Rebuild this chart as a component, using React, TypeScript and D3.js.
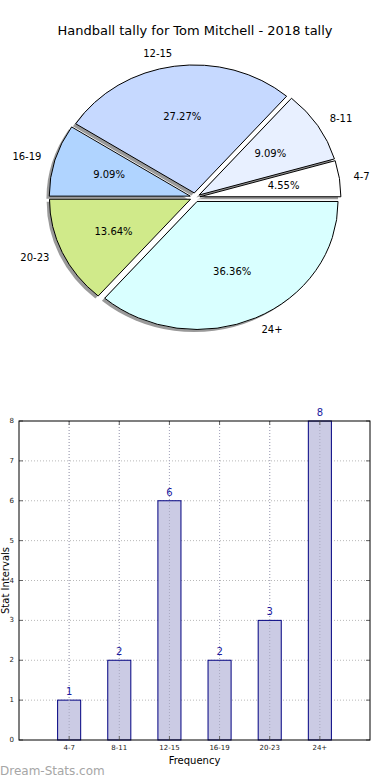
import React from "react";
import * as d3 from "d3";

const categories = ["4-7", "8-11", "12-15", "16-19", "20-23", "24+"];
const counts = [1, 2, 6, 2, 3, 8];
const sliceColors = ["#ffffff", "#e8f0ff", "#c6d9ff", "#b0d4ff", "#d0ea8a", "#d9ffff"];
const yTicks = [0, 1, 2, 3, 4, 5, 6, 7, 8];
const title = "Handball tally for Tom Mitchell - 2018 tally";

const W = 390;
const H = 780;
const FONT = "DejaVu Sans, sans-serif";

export default function App() {
  // ---- pie ----
  const cx = 195;
  const cy = 197.4;
  const rx = 141;
  const ry = 128;
  const explode = 0.035;
  const total = d3.sum(counts);
  const pie = d3
    .pie<number>()
    .sort(null)
    .startAngle(Math.PI / 2)
    .endAngle(Math.PI / 2 - 2 * Math.PI);
  const arcs = pie(counts);

  const pt = (a: number, f: number, ox: number, oy: number) => [
    cx + ox + f * rx * Math.sin(a),
    cy + oy - f * ry * Math.cos(a),
  ];

  const wedgePath = (a0: number, a1: number, ox: number, oy: number) => {
    const [x0, y0] = pt(a0, 1, ox, oy);
    const [x1, y1] = pt(a1, 1, ox, oy);
    const large = Math.abs(a1 - a0) > Math.PI ? 1 : 0;
    const sweep = a1 < a0 ? 0 : 1;
    return `M${cx + ox},${cy + oy}L${x0},${y0}A${rx},${ry} 0 ${large} ${sweep} ${x1},${y1}Z`;
  };

  const slices = arcs.map((d, i) => {
    const mid = (d.startAngle + d.endAngle) / 2;
    const ox = explode * rx * Math.sin(mid);
    const oy = -explode * ry * Math.cos(mid);
    const path = wedgePath(d.startAngle, d.endAngle, ox, oy);
    const shadow = wedgePath(d.startAngle, d.endAngle, ox - 0.02 * rx, oy + 0.02 * ry);
    const [px, py] = pt(mid, 0.6, ox, oy);
    const [lx, ly] = pt(mid, 1.1, ox, oy);
    const pct = ((counts[i] / total) * 100).toFixed(2) + "%";
    return { path, shadow, px, py, lx, ly, pct, anchor: Math.sin(mid) >= 0 ? "start" : "end", i };
  });

  // ---- bar chart ----
  const left = 19;
  const right = 370;
  const top = 421;
  const bottom = 740;
  const x = d3.scaleLinear().domain([-1, 6]).range([left, right]);
  const y = d3.scaleLinear().domain([0, 8]).range([bottom, top]);
  const barW = 0.46;
  const tickLen = 4;

  return (
    <svg
      width={W}
      height={H}
      style={{ position: "absolute", left: 0, top: 0, background: "#fff" }}
      fontFamily={FONT}
    >
      <rect x={0} y={0} width={W} height={H} fill="#fff" />
      <text x={195} y={35} textAnchor="middle" fontSize={13} fill="#000">
        {title}
      </text>

      {/* pie shadows */}
      {slices.map((s) => (
        <path key={"sh" + s.i} d={s.shadow} fill="#9a9a9a" stroke="none" />
      ))}
      {slices.map((s) => (
        <path key={"w" + s.i} d={s.path} fill={sliceColors[s.i]} stroke="#000" strokeWidth={1} strokeLinejoin="round" />
      ))}
      {slices.map((s) => (
        <text key={"p" + s.i} x={s.px} y={s.py} textAnchor="middle" dominantBaseline="central" fontSize={10} fill="#000">
          {s.pct}
        </text>
      ))}
      {slices.map((s) => (
        <text key={"l" + s.i} x={s.lx} y={s.ly} textAnchor={s.anchor} dominantBaseline="central" fontSize={10} fill="#000">
          {categories[s.i]}
        </text>
      ))}

      {/* bar chart grid */}
      {yTicks.slice(1, -1).map((t) => (
        <line key={"gy" + t} x1={left} x2={right} y1={y(t)} y2={y(t)} stroke="#b8b8b8" strokeDasharray="1,2" />
      ))}
      {categories.map((c, i) => (
        <line key={"gx" + c} x1={x(i)} x2={x(i)} y1={top} y2={bottom} stroke="#b8b8b8" strokeDasharray="1,2" />
      ))}

      {/* bars */}
      {counts.map((v, i) => (
        <rect
          key={"b" + i}
          x={x(i - barW / 2)}
          y={y(v)}
          width={x(barW) - x(0)}
          height={y(0) - y(v)}
          fill="#cbcbe4"
          fillOpacity={1}
          stroke="#000080"
          strokeWidth={1}
        />
      ))}
      {categories.map((c, i) => (
        <line key={"gxo" + c} x1={x(i)} x2={x(i)} y1={top} y2={bottom} stroke="#a8a8c0" strokeDasharray="1,2" />
      ))}
      {counts.map((v, i) => (
        <text key={"v" + i} x={x(i)} y={y(v) - 5} textAnchor="middle" fontSize={10} fill="#1a1aa0">
          {v}
        </text>
      ))}

      {/* ticks */}
      {yTicks.map((t) => (
        <g key={"ty" + t}>
          <line x1={left} x2={left + tickLen} y1={y(t)} y2={y(t)} stroke="#666" />
          <line x1={right} x2={right - tickLen} y1={y(t)} y2={y(t)} stroke="#666" />
          <text x={left - 5} y={y(t)} textAnchor="end" dominantBaseline="central" fontSize={7} fill="#222">
            {t}
          </text>
        </g>
      ))}
      {categories.map((c, i) => (
        <g key={"tx" + c}>
          <line x1={x(i)} x2={x(i)} y1={bottom} y2={bottom - tickLen} stroke="#666" />
          <line x1={x(i)} x2={x(i)} y1={top} y2={top + tickLen} stroke="#666" />
          <text x={x(i)} y={bottom + 8} textAnchor="middle" dominantBaseline="central" fontSize={7} fill="#222">
            {c}
          </text>
        </g>
      ))}

      {/* frame */}
      <rect x={left} y={top} width={right - left} height={bottom - top} fill="none" stroke="#000" strokeWidth={1} />

      <text x={(left + right) / 2} y={764} textAnchor="middle" fontSize={10} fill="#000">
        Frequency
      </text>
      <text
        transform={`translate(9,${(top + bottom) / 2}) rotate(-90)`}
        textAnchor="middle"
        fontSize={10}
        fill="#000"
      >
        Stat Intervals
      </text>

      <text x={0} y={775} fontSize={12} fill="#a6a6a6">
        Dream-Stats.com
      </text>
    </svg>
  );
}
